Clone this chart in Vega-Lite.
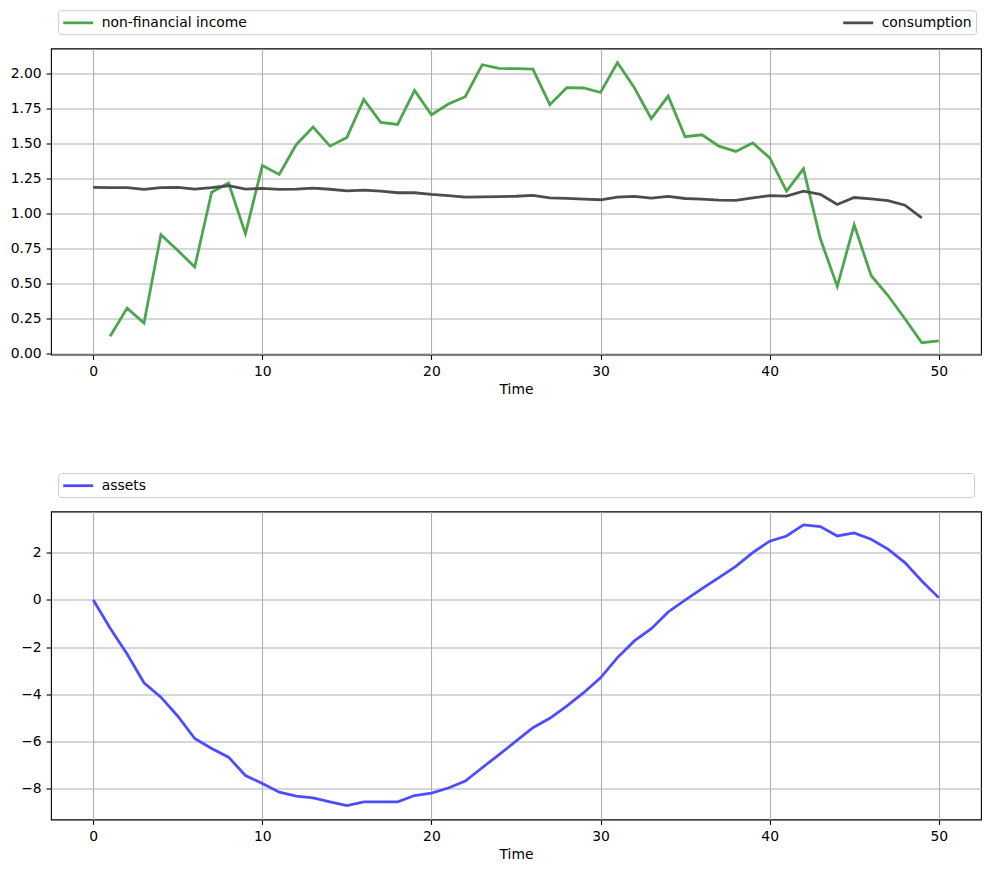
{
  "$schema": "https://vega.github.io/schema/vega-lite/v6.json",
  "padding": {"left": 9, "top": 8.5, "right": 5, "bottom": 5},
  "background": "#ffffff",
  "datasets": {
    "top": [
      {"t": 1, "v": 0.125, "series": "non-financial income"},
      {"t": 2, "v": 0.326, "series": "non-financial income"},
      {"t": 3, "v": 0.219, "series": "non-financial income"},
      {"t": 4, "v": 0.85, "series": "non-financial income"},
      {"t": 5, "v": 0.738, "series": "non-financial income"},
      {"t": 6, "v": 0.619, "series": "non-financial income"},
      {"t": 7, "v": 1.154, "series": "non-financial income"},
      {"t": 8, "v": 1.219, "series": "non-financial income"},
      {"t": 9, "v": 0.857, "series": "non-financial income"},
      {"t": 10, "v": 1.345, "series": "non-financial income"},
      {"t": 11, "v": 1.281, "series": "non-financial income"},
      {"t": 12, "v": 1.493, "series": "non-financial income"},
      {"t": 13, "v": 1.619, "series": "non-financial income"},
      {"t": 14, "v": 1.483, "series": "non-financial income"},
      {"t": 15, "v": 1.545, "series": "non-financial income"},
      {"t": 16, "v": 1.816, "series": "non-financial income"},
      {"t": 17, "v": 1.652, "series": "non-financial income"},
      {"t": 18, "v": 1.638, "series": "non-financial income"},
      {"t": 19, "v": 1.881, "series": "non-financial income"},
      {"t": 20, "v": 1.707, "series": "non-financial income"},
      {"t": 21, "v": 1.783, "series": "non-financial income"},
      {"t": 22, "v": 1.836, "series": "non-financial income"},
      {"t": 23, "v": 2.064, "series": "non-financial income"},
      {"t": 24, "v": 2.038, "series": "non-financial income"},
      {"t": 25, "v": 2.036, "series": "non-financial income"},
      {"t": 26, "v": 2.033, "series": "non-financial income"},
      {"t": 27, "v": 1.779, "series": "non-financial income"},
      {"t": 28, "v": 1.9, "series": "non-financial income"},
      {"t": 29, "v": 1.898, "series": "non-financial income"},
      {"t": 30, "v": 1.866, "series": "non-financial income"},
      {"t": 31, "v": 2.079, "series": "non-financial income"},
      {"t": 32, "v": 1.9, "series": "non-financial income"},
      {"t": 33, "v": 1.679, "series": "non-financial income"},
      {"t": 34, "v": 1.84, "series": "non-financial income"},
      {"t": 35, "v": 1.55, "series": "non-financial income"},
      {"t": 36, "v": 1.564, "series": "non-financial income"},
      {"t": 37, "v": 1.483, "series": "non-financial income"},
      {"t": 38, "v": 1.445, "series": "non-financial income"},
      {"t": 39, "v": 1.505, "series": "non-financial income"},
      {"t": 40, "v": 1.4, "series": "non-financial income"},
      {"t": 41, "v": 1.161, "series": "non-financial income"},
      {"t": 42, "v": 1.321, "series": "non-financial income"},
      {"t": 43, "v": 0.821, "series": "non-financial income"},
      {"t": 44, "v": 0.481, "series": "non-financial income"},
      {"t": 45, "v": 0.921, "series": "non-financial income"},
      {"t": 46, "v": 0.559, "series": "non-financial income"},
      {"t": 47, "v": 0.416, "series": "non-financial income"},
      {"t": 48, "v": 0.25, "series": "non-financial income"},
      {"t": 49, "v": 0.079, "series": "non-financial income"},
      {"t": 50, "v": 0.093, "series": "non-financial income"},
      {"t": 0, "v": 1.188, "series": "consumption"},
      {"t": 1, "v": 1.187, "series": "consumption"},
      {"t": 2, "v": 1.187, "series": "consumption"},
      {"t": 3, "v": 1.174, "series": "consumption"},
      {"t": 4, "v": 1.187, "series": "consumption"},
      {"t": 5, "v": 1.188, "series": "consumption"},
      {"t": 6, "v": 1.176, "series": "consumption"},
      {"t": 7, "v": 1.186, "series": "consumption"},
      {"t": 8, "v": 1.2, "series": "consumption"},
      {"t": 9, "v": 1.176, "series": "consumption"},
      {"t": 10, "v": 1.181, "series": "consumption"},
      {"t": 11, "v": 1.174, "series": "consumption"},
      {"t": 12, "v": 1.176, "series": "consumption"},
      {"t": 13, "v": 1.183, "series": "consumption"},
      {"t": 14, "v": 1.175, "series": "consumption"},
      {"t": 15, "v": 1.164, "series": "consumption"},
      {"t": 16, "v": 1.169, "series": "consumption"},
      {"t": 17, "v": 1.162, "series": "consumption"},
      {"t": 18, "v": 1.15, "series": "consumption"},
      {"t": 19, "v": 1.15, "series": "consumption"},
      {"t": 20, "v": 1.138, "series": "consumption"},
      {"t": 21, "v": 1.129, "series": "consumption"},
      {"t": 22, "v": 1.119, "series": "consumption"},
      {"t": 23, "v": 1.121, "series": "consumption"},
      {"t": 24, "v": 1.122, "series": "consumption"},
      {"t": 25, "v": 1.125, "series": "consumption"},
      {"t": 26, "v": 1.131, "series": "consumption"},
      {"t": 27, "v": 1.114, "series": "consumption"},
      {"t": 28, "v": 1.11, "series": "consumption"},
      {"t": 29, "v": 1.105, "series": "consumption"},
      {"t": 30, "v": 1.1, "series": "consumption"},
      {"t": 31, "v": 1.119, "series": "consumption"},
      {"t": 32, "v": 1.124, "series": "consumption"},
      {"t": 33, "v": 1.112, "series": "consumption"},
      {"t": 34, "v": 1.124, "series": "consumption"},
      {"t": 35, "v": 1.109, "series": "consumption"},
      {"t": 36, "v": 1.105, "series": "consumption"},
      {"t": 37, "v": 1.097, "series": "consumption"},
      {"t": 38, "v": 1.095, "series": "consumption"},
      {"t": 39, "v": 1.114, "series": "consumption"},
      {"t": 40, "v": 1.129, "series": "consumption"},
      {"t": 41, "v": 1.126, "series": "consumption"},
      {"t": 42, "v": 1.162, "series": "consumption"},
      {"t": 43, "v": 1.138, "series": "consumption"},
      {"t": 44, "v": 1.066, "series": "consumption"},
      {"t": 45, "v": 1.116, "series": "consumption"},
      {"t": 46, "v": 1.107, "series": "consumption"},
      {"t": 47, "v": 1.093, "series": "consumption"},
      {"t": 48, "v": 1.061, "series": "consumption"},
      {"t": 49, "v": 0.971, "series": "consumption"}
    ],
    "assets": [
      {"t": 0, "v": 0, "series": "assets"},
      {"t": 1, "v": -1.2, "series": "assets"},
      {"t": 2, "v": -2.3, "series": "assets"},
      {"t": 3, "v": -3.52, "series": "assets"},
      {"t": 4, "v": -4.13, "series": "assets"},
      {"t": 5, "v": -4.94, "series": "assets"},
      {"t": 6, "v": -5.89, "series": "assets"},
      {"t": 7, "v": -6.31, "series": "assets"},
      {"t": 8, "v": -6.68, "series": "assets"},
      {"t": 9, "v": -7.46, "series": "assets"},
      {"t": 10, "v": -7.8, "series": "assets"},
      {"t": 11, "v": -8.17, "series": "assets"},
      {"t": 12, "v": -8.34, "series": "assets"},
      {"t": 13, "v": -8.41, "series": "assets"},
      {"t": 14, "v": -8.58, "series": "assets"},
      {"t": 15, "v": -8.74, "series": "assets"},
      {"t": 16, "v": -8.58, "series": "assets"},
      {"t": 17, "v": -8.58, "series": "assets"},
      {"t": 18, "v": -8.58, "series": "assets"},
      {"t": 19, "v": -8.31, "series": "assets"},
      {"t": 20, "v": -8.21, "series": "assets"},
      {"t": 21, "v": -7.99, "series": "assets"},
      {"t": 22, "v": -7.7, "series": "assets"},
      {"t": 23, "v": -7.13, "series": "assets"},
      {"t": 24, "v": -6.57, "series": "assets"},
      {"t": 25, "v": -6.0, "series": "assets"},
      {"t": 26, "v": -5.43, "series": "assets"},
      {"t": 27, "v": -5.03, "series": "assets"},
      {"t": 28, "v": -4.51, "series": "assets"},
      {"t": 29, "v": -3.94, "series": "assets"},
      {"t": 30, "v": -3.31, "series": "assets"},
      {"t": 31, "v": -2.45, "series": "assets"},
      {"t": 32, "v": -1.74, "series": "assets"},
      {"t": 33, "v": -1.22, "series": "assets"},
      {"t": 34, "v": -0.51, "series": "assets"},
      {"t": 35, "v": -0.01, "series": "assets"},
      {"t": 36, "v": 0.48, "series": "assets"},
      {"t": 37, "v": 0.95, "series": "assets"},
      {"t": 38, "v": 1.43, "series": "assets"},
      {"t": 39, "v": 2.01, "series": "assets"},
      {"t": 40, "v": 2.5, "series": "assets"},
      {"t": 41, "v": 2.72, "series": "assets"},
      {"t": 42, "v": 3.19, "series": "assets"},
      {"t": 43, "v": 3.12, "series": "assets"},
      {"t": 44, "v": 2.72, "series": "assets"},
      {"t": 45, "v": 2.85, "series": "assets"},
      {"t": 46, "v": 2.58, "series": "assets"},
      {"t": 47, "v": 2.16, "series": "assets"},
      {"t": 48, "v": 1.59, "series": "assets"},
      {"t": 49, "v": 0.81, "series": "assets"},
      {"t": 50, "v": 0.1, "series": "assets"}
    ]
  },
  "resolve": {"scale": {"color": "independent"}, "legend": {"color": "independent"}},
  "vconcat": [
    {
      "width": 930,
      "height": 306,
      "data": {"name": "top"},
      "mark": {"type": "line", "strokeWidth": 2.78, "clip": true},
      "encoding": {
        "x": {"field": "t", "type": "quantitative",
          "scale": {"domain": [-2.5, 52.5], "nice": false, "zero": false},
          "axis": {"values": [0, 10, 20, 30, 40, 50], "title": "Time"}},
        "y": {"field": "v", "type": "quantitative",
          "scale": {"domain": [-0.005, 2.18], "nice": false, "zero": false},
          "axis": {"values": [0, 0.25, 0.5, 0.75, 1, 1.25, 1.5, 1.75, 2], "format": ".2f", "title": null}},
        "color": {"field": "series", "type": "nominal",
          "scale": {"domain": ["non-financial income", "consumption"], "range": ["#4da64d", "#4d4d4d"]},
          "legend": {"title": null, "orient": "none", "legendX": 7.1, "legendY": -38.3,
            "direction": "horizontal", "columns": 2, "columnPadding": 589}}
      }
    },
    {
      "width": 930,
      "height": 308,
      "layer": [
        {
          "mark": {"type": "rule", "color": "#000000", "strokeWidth": 2},
          "encoding": {
            "x": {"datum": 0, "type": "quantitative"},
            "x2": {"datum": 50},
            "y": {"datum": 0, "type": "quantitative"}
          }
        },
        {
          "data": {"name": "assets"},
          "mark": {"type": "line", "strokeWidth": 2.78, "clip": true},
          "encoding": {
            "x": {"field": "t", "type": "quantitative"},
            "y": {"field": "v", "type": "quantitative"},
            "color": {"field": "series", "type": "nominal",
              "scale": {"domain": ["assets"], "range": ["#4d4dff"]},
              "legend": {"title": "\u00a0", "titleOrient": "right", "titlePadding": 824, "titleFontSize": 13.9,
                "orient": "none", "legendX": 7.1, "legendY": -38.4}}
          }
        }
      ],
      "encoding": {
        "x": {"type": "quantitative",
          "scale": {"domain": [-2.5, 52.5], "nice": false, "zero": false},
          "axis": {"values": [0, 10, 20, 30, 40, 50], "title": "Time"}},
        "y": {"type": "quantitative",
          "scale": {"domain": [-9.33, 3.76], "nice": false, "zero": false},
          "axis": {"values": [-8, -6, -4, -2, 0, 2], "format": "d", "title": null}}
      }
    }
  ],
  "spacing": 74,
  "config": {
    "font": "DejaVu Sans",
    "view": {"stroke": "#000000", "strokeWidth": 1.1},
    "axis": {
      "domain": false,
      "grid": true,
      "gridColor": "#b0b0b0",
      "gridWidth": 1.1,
      "gridOpacity": 1,
      "ticks": true,
      "tickColor": "#000000",
      "tickWidth": 1.1,
      "tickSize": 4.9,
      "labelFont": "DejaVu Sans",
      "labelFontSize": 13.9,
      "labelColor": "#000000",
      "labelPadding": 4.9,
      "labelFlush": false,
      "labelOverlap": false,
      "titleFont": "DejaVu Sans",
      "titleFontSize": 13.9,
      "titleFontWeight": "normal",
      "titleColor": "#000000",
      "titlePadding": 4
    },
    "legend": {
      "labelFont": "DejaVu Sans",
      "labelFontSize": 13.9,
      "labelColor": "#000000",
      "labelOffset": 22,
      "labelLimit": 400,
      "symbolType": "M-1,0H3",
      "symbolSize": 225,
      "symbolStrokeWidth": 2.78,
      "padding": 3.6,
      "strokeColor": "#cccccc",
      "fillColor": "#ffffff",
      "cornerRadius": 3
    }
  }
}
